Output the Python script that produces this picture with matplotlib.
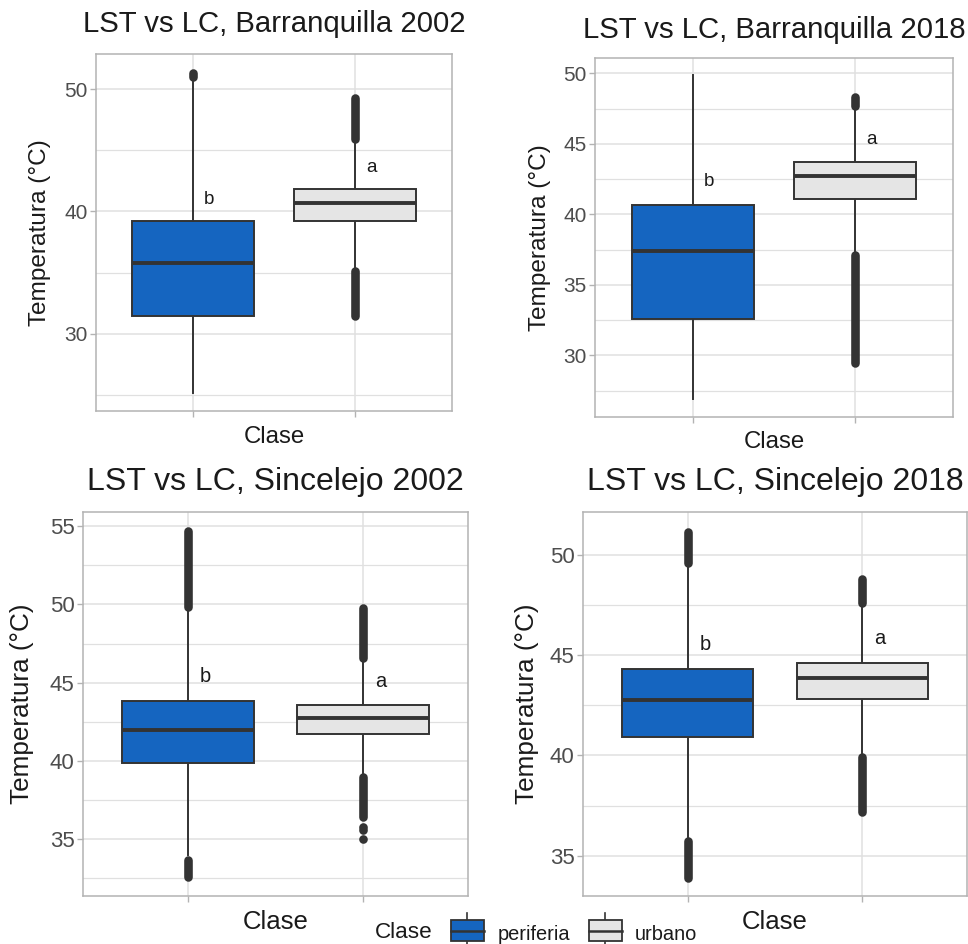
import matplotlib
matplotlib.use("Agg")
import matplotlib.pyplot as plt
from matplotlib.patches import Rectangle
from matplotlib.ticker import MultipleLocator

plt.rcParams["font.family"] = ["Liberation Sans", "DejaVu Sans"]

# ---- datos ----
clases = ["periferia", "urbano"]
titulos = ["LST vs LC, Barranquilla 2002", "LST vs LC, Barranquilla 2018",
           "LST vs LC, Sincelejo 2002", "LST vs LC, Sincelejo 2018"]

# cada fila: [periferia, urbano]
q1 = [[31.5, 39.2], [32.55, 41.1], [39.85, 41.75], [40.9, 42.8]]
mediana = [[35.75, 40.7], [37.4, 42.7], [42.0, 42.75], [42.75, 43.85]]
q3 = [[39.2, 41.8], [40.65, 43.75], [43.85, 43.6], [44.3, 44.6]]
bigote_inf = [[25.15, 35.45], [26.9, 37.4], [34.0, 39.25], [35.95, 40.1]]
bigote_sup = [[50.6, 45.6], [49.9, 47.4], [49.6, 46.3], [49.4, 47.4]]

# tramos densos de atipicos (desde, hasta)
atipicos = [
    [[(50.95, 51.3)], [(45.9, 49.25), (31.45, 35.1)]],
    [[], [(47.7, 48.3), (29.45, 37.1)]],
    [[(49.85, 54.7), (32.6, 33.7)], [(46.55, 49.75), (36.4, 39.0)]],
    [[(49.6, 51.1), (33.9, 35.75)], [(47.6, 48.8), (37.2, 39.9)]],
]
atipicos_sueltos = [[[], []], [[], []], [[], [35.8, 35.6, 35.0]], [[], []]]

letras = ["b", "a"]
letra_y = [[41.0, 43.6], [42.3, 45.35], [45.4, 45.1], [45.5, 45.8]]

# ---- estilo / disposicion ----
W, H = 968, 944
colores = ["#1565C0", "#E5E5E5"]
borde = "#333333"
gris_grid = "#E0E0E0"
gris_marco = "#B3B3B3"

paneles = [
    dict(rect=(96, 54, 452, 411), ylim=(23.7, 52.86), major=10, minor=5,
         title_y=24, ylab_x=40, xlab_y=437, fs=1.0, tfs=21.2),
    dict(rect=(595, 58, 953, 417), ylim=(25.62, 51.1), major=5, minor=2.5,
         title_y=30, ylab_x=540, xlab_y=442, fs=1.0, tfs=21.2),
    dict(rect=(83, 512, 468, 896), ylim=(31.38, 55.9), major=5, minor=2.5,
         title_y=482, ylab_x=22, xlab_y=922, fs=1.07, tfs=23),
    dict(rect=(583, 512, 967, 896), ylim=(33.0, 52.12), major=5, minor=2.5,
         title_y=482, ylab_x=527, xlab_y=922, fs=1.07, tfs=23),
]

fig = plt.figure(figsize=(W / 100, H / 100), dpi=100)


def fx(x):
    return x / W


def fy(y):
    return 1 - y / H


for i, p in enumerate(paneles):
    x0, y0, x1, y1 = p["rect"]
    ax = fig.add_axes([fx(x0), fy(y1), (x1 - x0) / W, (y1 - y0) / H])
    s = p["fs"]

    stats = []
    for j, c in enumerate(clases):
        stats.append(dict(label=c, q1=q1[i][j], med=mediana[i][j], q3=q3[i][j],
                          whislo=bigote_inf[i][j], whishi=bigote_sup[i][j],
                          fliers=[]))
    bp = ax.bxp(stats, positions=[1, 2], widths=0.75, patch_artist=True,
                showfliers=False, showcaps=False,
                boxprops=dict(edgecolor=borde, linewidth=1.4),
                medianprops=dict(color=borde, linewidth=2.8),
                whiskerprops=dict(color=borde, linewidth=1.4))
    for patch, col in zip(bp["boxes"], colores):
        patch.set_facecolor(col)
        patch.set_zorder(3)
    for m in bp["medians"]:
        m.set_zorder(4)
    for w in bp["whiskers"]:
        w.set_zorder(2)

    for j in range(2):
        for lo, hi in atipicos[i][j]:
            ax.plot([j + 1, j + 1], [lo, hi], color=borde, lw=6.2,
                    solid_capstyle="round", zorder=5)
        for v in atipicos_sueltos[i][j]:
            ax.plot([j + 1], [v], "o", color=borde, ms=6.2, mec="none", zorder=5)
        ax.text(j + 1.1, letra_y[i][j], letras[j], fontsize=13.5 * s,
                color="#1A1A1A", ha="center", va="center", zorder=6)

    ax.set_xlim(0.4, 2.6)
    ax.set_ylim(*p["ylim"])
    ax.set_xticks([1, 2])
    ax.set_xticklabels([])
    ax.yaxis.set_major_locator(MultipleLocator(p["major"]))
    ax.yaxis.set_minor_locator(MultipleLocator(p["minor"]))
    ax.tick_params(axis="y", which="minor", length=0)
    ax.tick_params(which="major", color=gris_marco, length=4, width=1,
                   labelcolor="#4D4D4D", labelsize=15 * s, pad=2)
    ax.grid(which="major", color=gris_grid, lw=1.1, zorder=0)
    ax.grid(which="minor", axis="y", color=gris_grid, lw=0.9, zorder=0)
    ax.set_axisbelow(True)
    for sp in ax.spines.values():
        sp.set_color(gris_marco)
        sp.set_linewidth(1.1)

    cx = (x0 + x1) / 2
    fig.text(fx(cx), fy(p["title_y"]), titulos[i], fontsize=p["tfs"],
             color="#1A1A1A", ha="center", va="center")
    fig.text(fx(p["ylab_x"]), fy((y0 + y1) / 2), "Temperatura (°C)",
             fontsize=17.6 * s, rotation=90, color="#1A1A1A",
             ha="center", va="center")
    fig.text(fx(cx), fy(p["xlab_y"]), "Clase", fontsize=17.3 * s,
             color="#1A1A1A", ha="center", va="center")

# leyenda comun abajo
lax = fig.add_axes([0, 0, 1, 1], zorder=10)
lax.set_xlim(0, W)
lax.set_ylim(H, 0)
lax.axis("off")
lax.text(375, 933, "Clase", fontsize=16.2, color="#1A1A1A", va="center")
for k, (c, col) in enumerate(zip(clases, colores)):
    kx = [451, 589][k]
    lax.plot([kx + 16, kx + 16], [913, 944], color=borde, lw=1.2, zorder=1)
    lax.add_patch(Rectangle((kx, 920), 33, 21, facecolor=col,
                            edgecolor=borde, lw=1.3, zorder=2))
    lax.plot([kx, kx + 33], [930.5, 930.5], color=borde, lw=1.8, zorder=3)
    lax.text([498, 635][k], 934, c, fontsize=14.4, color="#1A1A1A", va="center")

fig.savefig("out.png", dpi=100)
